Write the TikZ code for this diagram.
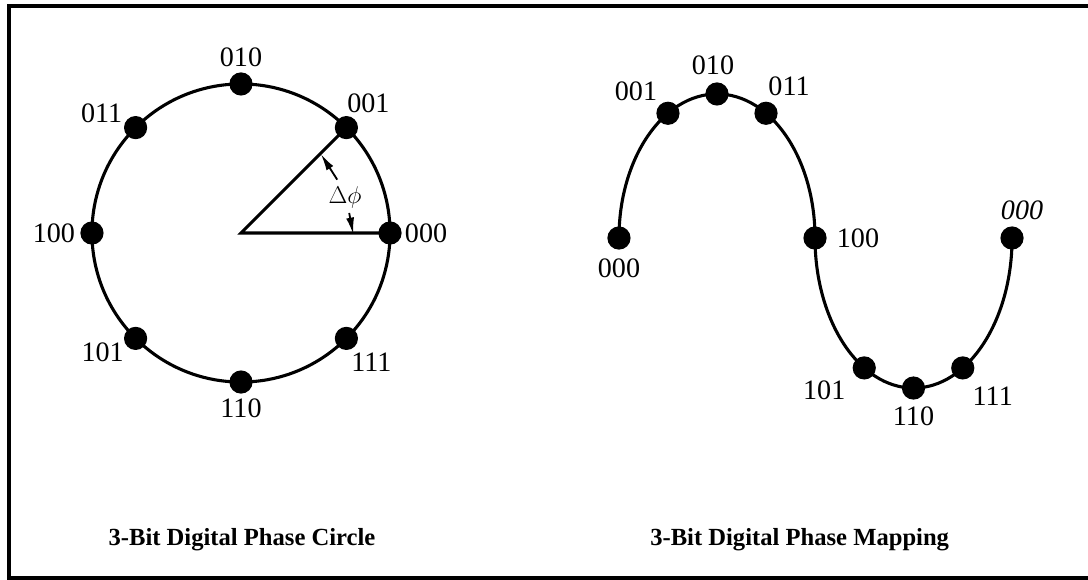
\documentclass[tikz,border=0pt]{standalone}
\usepackage{fontspec}
\setmainfont{Liberation Serif}
\usepackage{tikz}
\usetikzlibrary{arrows.meta, calc, positioning}

\begin{document}
\begin{tikzpicture}[x=0.025cm, y=-0.025cm,
    dot/.style={circle, fill, inner sep=0pt, minimum size=0.58cm},
    lbl/.style={font=\fontsize{20}{23}\selectfont, inner sep=0pt},
    curve/.style={line width=2.2pt},
    dimarrow/.style={-{Latex[length=0.42cm, width=0.2cm]}, line width=1.3pt, shorten >=-1pt},
    ttl/.style={font=\fontsize{17.5}{21}\selectfont\bfseries, inner sep=0pt}]

  \useasboundingbox (0,0) rectangle (1088,580);
  % Frame (cut off on the right)
  \draw[line width=2.2pt] (1100,6) -- (9,6) -- (9,578) -- (1100,578);

  % Phase circle
  \coordinate (c) at (241,233);
  \draw[curve] (c) circle[radius=3.725cm];
  \foreach \b/\a/\dx/\dy in {000/0/36/0, 001/45/22/-24, 010/90/0/-27, 011/135/-34/-14,
                             100/180/-38/0, 101/225/-33/14, 110/270/0/26, 111/315/25/24}{
    \node[dot] (p\b) at ([shift={(\a:3.725cm)}]c) {};
    \node[lbl] (lp\b) at ([shift={(\dx,\dy)}]p\b) {\b};
  }

  % Phase step
  \draw[curve] (p001.center) -- (c) -- (p000.center);
  \node[lbl, font=\fontsize{18}{21}\selectfont] (dphi) at ([shift={(19:2.75cm)}]c) {$\Delta\phi$};
  \coordinate (a1) at ([shift={(29:2.75cm)}]c);
  \coordinate (a2) at ([shift={(44:2.8cm)}]c);
  \coordinate (b1) at ([shift={(10.5:2.75cm)}]c);
  \coordinate (b2) at ([shift={(0:2.8cm)}]c);
  \draw[dimarrow] (a1) -- (a2);
  \draw[dimarrow] (b1) -- (b2);

  % Phase mapping
  \coordinate (u) at (717,238);
  \coordinate (w) at (913.5,238);
  \foreach \b/\a/\dx/\dy in {000/180/0/30, 001/120/-32/-22, 010/90/-4/-29, 011/60/23/-27, 100/0/43/0}{
    \node[dot] (q\b) at ([shift={(\a:2.45cm and 3.6cm)}]u) {};
    \node[lbl] (lq\b) at ([shift={(\dx,\dy)}]q\b) {\b};
  }
  \foreach \b/\a/\dx/\dy in {101/240/-40/22, 110/270/0/28, 111/300/30/28}{
    \node[dot] (q\b) at ([shift={(\a:2.4625cm and 3.75cm)}]w) {};
    \node[lbl] (lq\b) at ([shift={(\dx,\dy)}]q\b) {\b};
  }
  \node[dot] (qend) at ([shift={(0:2.4625cm and 3.75cm)}]w) {};
  \node[lbl, font=\fontsize{20}{23}\selectfont\itshape] (lqend) at ([shift={(10,-28)}]qend) {000};

  \draw[curve] (q000.center) arc[start angle=180, end angle=0, x radius=2.45cm, y radius=3.6cm]
    arc[start angle=180, end angle=360, x radius=2.4625cm, y radius=3.75cm];

  % Titles
  \node[ttl, anchor=base] (t1) at (242,545) {3-Bit Digital Phase Circle};
  \node[ttl, anchor=base west] (t2) at (650,545) {3-Bit Digital Phase Mapping};
\end{tikzpicture}
\end{document}
